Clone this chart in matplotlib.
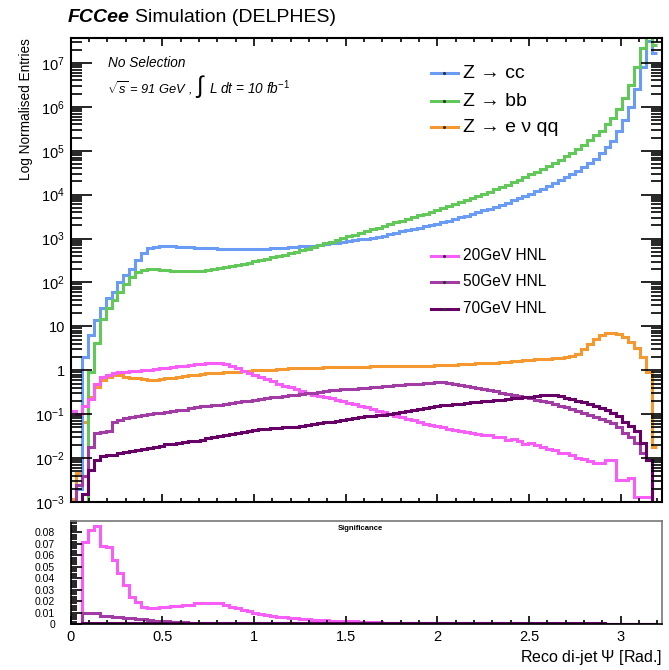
import numpy as np
import matplotlib
matplotlib.use('Agg')
import matplotlib.pyplot as plt
from matplotlib.lines import Line2D
from matplotlib.ticker import FixedLocator, MultipleLocator, NullFormatter

plt.rcParams['font.family'] = ['Liberation Sans', 'DejaVu Sans']
plt.rcParams['mathtext.fontset'] = 'custom'
plt.rcParams['mathtext.rm'] = 'Liberation Sans'
plt.rcParams['mathtext.it'] = 'Liberation Sans:italic'
plt.rcParams['mathtext.bf'] = 'Liberation Sans:bold'

# 100 bins of the reco di-jet angle, 0 .. 3.2 rad
edges = np.linspace(0, 3.2, 101)

z_cc = [
    0, 2e-3, 2.0, 6.3, 14, 26, 45, 60, 100, 150,
    200, 320, 480, 600, 650, 660, 660, 660, 650, 645,
    630, 620, 615, 605, 600, 590, 590, 585, 575, 575,
    575, 585, 590, 590, 600, 615, 620, 630, 645, 660,
    675, 690, 725, 740, 775, 795, 830, 870, 910, 955,
    1000, 1050, 1100, 1170, 1260, 1350, 1450, 1550, 1660, 1780,
    1900, 2040, 2190, 2340, 2570, 2750, 3020, 3310, 3630, 3980,
    4370, 4790, 5250, 5890, 6610, 7410, 8320, 9330, 1.05e4, 1.2e4,
    1.38e4, 1.58e4, 1.82e4, 2.14e4, 2.51e4, 2.95e4, 3.55e4, 4.27e4, 5.25e4, 6.46e4,
    8.9e4, 1.2e5, 1.66e5, 2.8e5, 5.0e5, 1.0e6, 2.5e6, 8.0e6, 3.1e7, 1.7e7]

z_bb = [
    0, 0, 0, 0.9, 4.2, 15, 26, 40, 60, 90,
    135, 175, 195, 200, 200, 195, 190, 186, 182, 178,
    178, 182, 186, 195, 204, 214, 224, 234, 251, 263,
    282, 302, 324, 347, 372, 398, 427, 468, 501, 550,
    589, 646, 708, 776, 851, 933, 1020, 1120, 1230, 1350,
    1480, 1620, 1780, 1950, 2140, 2340, 2570, 2820, 3090, 3390,
    3720, 4070, 4570, 5010, 5500, 6170, 6760, 7590, 8320, 9330,
    1.05e4, 1.17e4, 1.32e4, 1.48e4, 1.66e4, 1.91e4, 2.19e4, 2.51e4, 2.88e4, 3.31e4,
    3.89e4, 4.57e4, 5.37e4, 6.31e4, 7.59e4, 9.12e4, 1.12e5, 1.38e5, 1.74e5, 2.24e5,
    2.8e5, 4.0e5, 5.6e5, 9.0e5, 1.6e6, 3.2e6, 8.0e6, 2.2e7, 6.0e7, 2.5e7]

z_evqq = [
    1.2e-3, 4.5e-3, 0.066, 0.25, 0.42, 0.6, 0.7, 0.78, 0.79, 0.72,
    0.68, 0.66, 0.62, 0.6, 0.6, 0.62, 0.66, 0.68, 0.72, 0.75,
    0.78, 0.8, 0.84, 0.86, 0.87, 0.89, 0.9, 0.91, 0.93, 0.95,
    0.97, 0.99, 1.0, 1.02, 1.04, 1.06, 1.08, 1.1, 1.11, 1.12,
    1.13, 1.14, 1.15, 1.16, 1.17, 1.18, 1.19, 1.2, 1.2, 1.21,
    1.21, 1.22, 1.22, 1.23, 1.23, 1.24, 1.24, 1.25, 1.25, 1.26,
    1.27, 1.28, 1.3, 1.31, 1.33, 1.34, 1.36, 1.38, 1.4, 1.43,
    1.45, 1.48, 1.5, 1.53, 1.57, 1.6, 1.64, 1.68, 1.72, 1.77,
    1.8, 1.84, 1.88, 1.9, 2.0, 2.1, 2.4, 3.0, 4.0, 5.2,
    6.5, 7.1, 7.1, 6.8, 5.8, 4.5, 3.3, 2.0, 0.93, 0.018]

hnl_20 = [
    0.12, 0.1, 0.15, 0.22, 0.5, 0.7, 0.8, 0.87, 0.9, 0.92,
    0.95, 0.98, 1.0, 1.03, 1.06, 1.1, 1.14, 1.18, 1.22, 1.27,
    1.32, 1.38, 1.42, 1.46, 1.5, 1.48, 1.4, 1.25, 1.1, 0.98,
    0.88, 0.8, 0.72, 0.64, 0.57, 0.5, 0.45, 0.41, 0.37, 0.33,
    0.3, 0.28, 0.26, 0.24, 0.23, 0.21, 0.2, 0.18, 0.17, 0.155,
    0.145, 0.13, 0.12, 0.11, 0.1, 0.092, 0.085, 0.078, 0.072, 0.066,
    0.061, 0.057, 0.053, 0.05, 0.046, 0.043, 0.041, 0.04, 0.037, 0.035,
    0.033, 0.034, 0.031, 0.03, 0.026, 0.027, 0.025, 0.021, 0.022, 0.02,
    0.018, 0.016, 0.015, 0.013, 0.013, 0.012, 0.01, 0.0095, 0.0085, 0.0078,
    0.0077, 0.009, 0.009, 0.0032, 0.0032, 0.0035, 0.0013, 0.0013, 0.0013, 0]

hnl_50 = [
    0, 0.0025, 0.004, 0.018, 0.037, 0.04, 0.042, 0.067, 0.075, 0.081,
    0.085, 0.09, 0.095, 0.1, 0.104, 0.108, 0.112, 0.117, 0.122, 0.127,
    0.135, 0.143, 0.15, 0.155, 0.16, 0.166, 0.172, 0.18, 0.188, 0.195,
    0.2, 0.21, 0.22, 0.23, 0.24, 0.25, 0.26, 0.27, 0.28, 0.29,
    0.3, 0.31, 0.32, 0.335, 0.35, 0.36, 0.37, 0.375, 0.38, 0.39,
    0.4, 0.41, 0.42, 0.43, 0.44, 0.455, 0.465, 0.475, 0.49, 0.5,
    0.51, 0.52, 0.53, 0.53, 0.52, 0.5, 0.46, 0.43, 0.41, 0.39,
    0.37, 0.35, 0.335, 0.31, 0.29, 0.275, 0.26, 0.245, 0.23, 0.215,
    0.2, 0.185, 0.17, 0.155, 0.145, 0.13, 0.118, 0.105, 0.095, 0.087,
    0.078, 0.07, 0.062, 0.05, 0.037, 0.03, 0.022, 0.013, 0.009, 0]

hnl_70 = [
    0, 0, 0.0015, 0.0053, 0.009, 0.011, 0.012, 0.012, 0.013, 0.014,
    0.0145, 0.015, 0.016, 0.017, 0.018, 0.019, 0.021, 0.021, 0.022, 0.023,
    0.024, 0.025, 0.026, 0.028, 0.03, 0.032, 0.034, 0.036, 0.038, 0.04,
    0.041, 0.043, 0.045, 0.047, 0.048, 0.049, 0.05, 0.051, 0.052, 0.054,
    0.056, 0.059, 0.062, 0.065, 0.068, 0.071, 0.074, 0.078, 0.082, 0.086,
    0.089, 0.092, 0.095, 0.098, 0.101, 0.104, 0.11, 0.116, 0.122, 0.13,
    0.138, 0.146, 0.152, 0.158, 0.164, 0.17, 0.175, 0.18, 0.185, 0.19,
    0.196, 0.202, 0.208, 0.215, 0.222, 0.23, 0.238, 0.245, 0.252, 0.26,
    0.268, 0.275, 0.27, 0.255, 0.235, 0.22, 0.2, 0.185, 0.17, 0.155,
    0.14, 0.125, 0.108, 0.09, 0.068, 0.055, 0.042, 0.022, 0.009, 0]

sig_20 = [
    0, 0, 0.072, 0.082, 0.086, 0.068, 0.067, 0.056, 0.045, 0.034,
    0.024, 0.019, 0.015, 0.014, 0.014, 0.015, 0.015, 0.016, 0.016, 0.017,
    0.017, 0.018, 0.018, 0.018, 0.0185, 0.018, 0.017, 0.015, 0.014, 0.012,
    0.011, 0.0095, 0.0088, 0.008, 0.0072, 0.0065, 0.006, 0.0055, 0.005, 0.0048,
    0.0042, 0.0038, 0.0034, 0.0031, 0.003, 0.0028, 0.0026, 0.0024, 0.0022, 0.002,
    0.0018, 0.0016, 0.0015, 0.0013, 0.0012, 0.0011, 0.001, 0.0009, 0.0008, 0.0007,
    0.0006, 0.0005, 0.0005, 0.0004, 0.0004, 0.0004, 0.0003, 0.0003, 0.0003, 0.0003,
    0.0002, 0.0002, 0.0002, 0.0002, 0.0002, 0.0002, 0.0002, 0.0001, 0.0001, 0.0001,
    0.0001, 0.0001, 0.0001, 0.0001, 0.0001, 0.0001, 0.0001, 0.0001, 0.0001, 0.0001,
    0.0001, 0.0001, 0.0001, 0.0001, 0.0001, 0.0001, 0.0001, 0.0001, 0.0001, 0]

sig_50 = [
    0, 0, 0.0095, 0.0095, 0.0098, 0.007, 0.007, 0.006, 0.006, 0.0055,
    0.005, 0.0045, 0.004, 0.0035, 0.003, 0.0026, 0.0022, 0.0019, 0.0016, 0.0014,
    0.0012, 0.0011, 0.001, 0.001, 0.0009, 0.0009, 0.0009, 0.0008, 0.0008, 0.0008,
    0.0008, 0.0008, 0.0008, 0.0008, 0.0008, 0.0008, 0.0008, 0.0008, 0.0008, 0.0008,
    0.0008, 0.0008, 0.0008, 0.0008, 0.0008, 0.0008, 0.0008, 0.0008, 0.0008, 0.0008,
    0.0008, 0.0008, 0.0008, 0.0008, 0.0008, 0.0008, 0.0008, 0.0008, 0.0008, 0.0008,
    0.0008, 0.0008, 0.0008, 0.0008, 0.0007, 0.0007, 0.0007, 0.0007, 0.0006, 0.0006,
    0.0006, 0.0006, 0.0005, 0.0005, 0.0005, 0.0005, 0.0004, 0.0004, 0.0004, 0.0004,
    0.0004, 0.0003, 0.0003, 0.0003, 0.0003, 0.0003, 0.0003, 0.0002, 0.0002, 0.0002,
    0.0002, 0.0002, 0.0002, 0.0001, 0.0001, 0.0001, 0.0001, 0.0001, 0.0001, 0]

sig_70 = [
    0, 0, 0.0008, 0.0008, 0.0008, 0.0007, 0.0007, 0.0007, 0.0007, 0.0007,
    0.0007, 0.0007, 0.0007, 0.0007, 0.0007, 0.0007, 0.0007, 0.0007, 0.0007, 0.0007,
    0.0007, 0.0007, 0.0007, 0.0007, 0.0007, 0.0007, 0.0007, 0.0007, 0.0007, 0.0007,
    0.0007, 0.0007, 0.0007, 0.0007, 0.0007, 0.0007, 0.0007, 0.0007, 0.0007, 0.0007,
    0.0007, 0.0007, 0.0007, 0.0007, 0.0007, 0.0007, 0.0007, 0.0007, 0.0007, 0.0007,
    0.0007, 0.0007, 0.0007, 0.0007, 0.0007, 0.0007, 0.0007, 0.0007, 0.0007, 0.0007,
    0.0007, 0.0007, 0.0007, 0.0007, 0.0007, 0.0007, 0.0007, 0.0007, 0.0007, 0.0007,
    0.0007, 0.0007, 0.0007, 0.0007, 0.0007, 0.0007, 0.0007, 0.0007, 0.0007, 0.0007,
    0.0007, 0.0007, 0.0006, 0.0006, 0.0006, 0.0006, 0.0006, 0.0005, 0.0005, 0.0005,
    0.0005, 0.0004, 0.0004, 0.0003, 0.0003, 0.0002, 0.0002, 0.0001, 0.0001, 0]

bkg_names = ['Z → cc', 'Z → bb', 'Z → e ν qq']
sig_names = ['20GeV HNL', '50GeV HNL', '70GeV HNL']

c_blue = '#6a9cf5'
c_green = '#62c85a'
c_orange = '#f5982f'
c_pink = '#f75ef7'
c_purple = '#a03ca3'
c_dpurple = '#660066'

W, H = 669, 670
fig = plt.figure(figsize=(W / 100, H / 100), dpi=100)

def fx(px):
    return px / W

def fy(py):
    return 1 - py / H

ax = fig.add_axes([fx(70.5), fy(502), fx(662) - fx(70.5), fy(38) - fy(502)])
axs = fig.add_axes([fx(70.5), fy(624), fx(662) - fx(70.5), fy(521) - fy(624)])

lw = 2.2
def draw(a, vals, col, floor):
    v = np.array(vals, dtype=float)
    v = np.where(v > 0, v, floor)
    a.stairs(v, edges, color=col, lw=lw, baseline=None)

draw(ax, z_evqq, c_orange, 1e-9)
draw(ax, z_cc, c_blue, 1e-9)
draw(ax, z_bb, c_green, 1e-9)
draw(ax, hnl_20, c_pink, 1e-9)
draw(ax, hnl_50, c_purple, 1e-9)
draw(ax, hnl_70, c_dpurple, 1e-9)

ax.set_yscale('log')
ax.set_ylim(1e-3, 3.7e7)
ax.set_xlim(0, 3.225)

major = [10.0 ** k for k in range(-3, 8)]
labels = {-3: '$10^{-3}$', -2: '$10^{-2}$', -1: '$10^{-1}$', 0: '1', 1: '10'}
ax.yaxis.set_major_locator(FixedLocator(major))
ax.set_yticklabels([labels.get(k, '$10^{%d}$' % k) for k in range(-3, 8)])
minor = [m * 10.0 ** k for k in range(-3, 8) for m in range(2, 10)]
ax.yaxis.set_minor_locator(FixedLocator(minor))
ax.yaxis.set_minor_formatter(NullFormatter())
ax.xaxis.set_major_locator(MultipleLocator(0.5))
ax.xaxis.set_minor_locator(MultipleLocator(0.1))
ax.set_xticklabels([])
ax.tick_params(axis='both', which='both', direction='in', top=True, right=True, width=1.2)
ax.tick_params(axis='y', which='major', length=15, labelsize=10.5, pad=4)
ax.tick_params(axis='y', which='minor', length=8)
ax.tick_params(axis='x', which='major', length=6)
ax.tick_params(axis='x', which='minor', length=3)
for s in ax.spines.values():
    s.set_linewidth(1.5)
ax.set_ylabel('Log Normalised Entries', fontsize=9.8, loc='top', labelpad=2)

# significance panel
draw(axs, sig_20, c_pink, 0)
draw(axs, sig_50, c_purple, 0)
draw(axs, sig_70, c_dpurple, 0)
axs.set_xlim(0, 3.225)
axs.set_ylim(0, 0.09)
axs.yaxis.set_major_locator(FixedLocator([0, 0.01, 0.02, 0.03, 0.04, 0.05, 0.06, 0.07, 0.08]))
axs.set_yticklabels(['0', '0.01', '0.02', '0.03', '0.04', '0.05', '0.06', '0.07', '0.08'])
axs.yaxis.set_minor_locator(MultipleLocator(0.002))
axs.xaxis.set_major_locator(MultipleLocator(0.5))
axs.xaxis.set_minor_locator(MultipleLocator(0.1))
axs.xaxis.set_major_formatter(plt.FuncFormatter(lambda v, p: '%g' % v))
axs.tick_params(axis='both', which='both', direction='in', width=1.2)
axs.tick_params(axis='y', which='major', length=8, labelsize=7.5, pad=11)
axs.tick_params(axis='y', which='minor', length=4)
axs.tick_params(axis='x', which='major', length=6, labelsize=10.5, pad=4)
axs.tick_params(axis='x', which='minor', length=3)
for k, s in axs.spines.items():
    s.set_linewidth(1.2)
    if k in ('top', 'right'):
        s.set_color('#777777')
axs.set_xlabel('Reco di-jet $\\Psi$ [Rad.]', fontsize=11.5, loc='right', labelpad=3)
fig.text(fx(360), fy(528), 'Significance', fontsize=5.5, fontweight='bold', ha='center', va='center')

# header texts
t1 = fig.text(fx(68), fy(18), 'FCCee', fontsize=14, fontweight='bold', style='italic', va='center')
r = fig.canvas.get_renderer()
bb = t1.get_window_extent(renderer=r)
fig.text(bb.x1 / W + fx(5), fy(18), 'Simulation (DELPHES)', fontsize=14, va='center')

fig.text(fx(108), fy(63), 'No Selection', fontsize=9.8, style='italic', va='center')
fig.text(fx(107), fy(88), '$\\sqrt{s}$ = 91 GeV ,', fontsize=9.3, style='italic', va='center')
fig.text(fx(195), fy(87), '$\\int$', fontsize=17, va='center')
fig.text(fx(209), fy(88), 'L dt = 10 fb$^{-1}$', fontsize=9.8, style='italic', va='center')

# legends
def legend_row(py, col, txt, size):
    fig.add_artist(Line2D([fx(431), fx(458)], [fy(py), fy(py)], color=col, lw=lw,
                          transform=fig.transFigure))
    fig.add_artist(Line2D([fx(444.5)], [fy(py)], color='#333333', marker='.', ms=2.5,
                          transform=fig.transFigure))
    fig.text(fx(463), fy(py), txt, fontsize=size, va='center')

for py, col, txt in zip([73, 101, 127], [c_blue, c_green, c_orange], bkg_names):
    legend_row(py, col, txt, 14)
for py, col, txt in zip([256, 282, 309], [c_pink, c_purple, c_dpurple], sig_names):
    legend_row(py, col, txt, 11.2)

fig.savefig('out.png', dpi=100)
